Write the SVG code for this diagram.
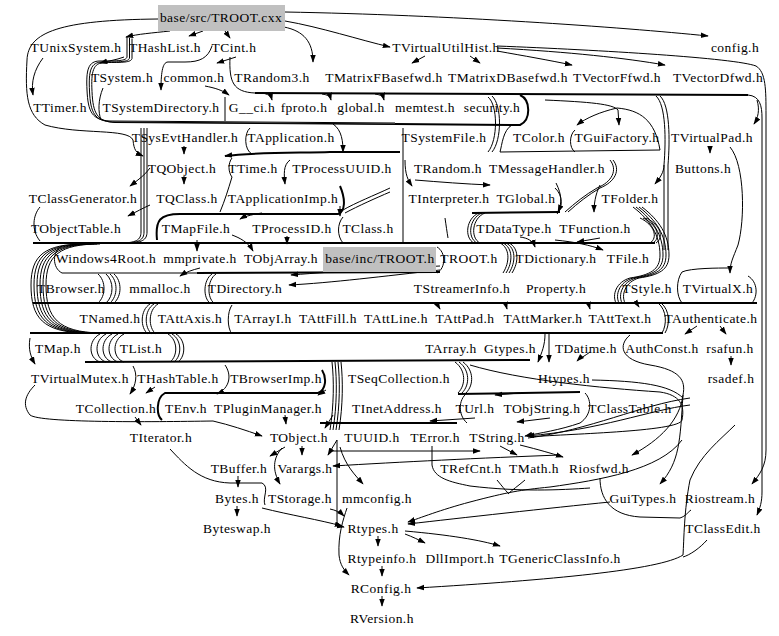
<svg xmlns="http://www.w3.org/2000/svg" width="779" height="636" viewBox="0 0 779 636">
<style>
.l{font-family:"Liberation Serif","Times New Roman",serif;font-size:13.5px;letter-spacing:0.45px;text-anchor:middle;fill:#000}
.e{fill:none;stroke:#000;stroke-width:1}
.t{fill:none;stroke:#000;stroke-width:2}
.a{marker-end:url(#ah)}
.box{fill:#c0c0c0}
</style>
<defs>
<marker id="ah" viewBox="0 0 10 10" refX="9" refY="5" markerWidth="8" markerHeight="8" markerUnits="userSpaceOnUse" orient="auto"><path d="M0,1.5 L10,5 L0,8.5 z" fill="#000"/></marker>
<path id="b1" class="e" d="M127,37 L127,57 C126,61 118,61 100,61 C88,61 86,70 87,90 C88,112 92,120 110,121 L395,123"/>
<path id="b2" class="e" d="M141,128 L141,232 C141,240 136,243 120,243"/>
<path id="b3" class="e" d="M85,244 C45,244 31,255 31,285 C31,318 43,332 85,333"/>
<path id="b5" class="e" d="M98,274 C106,281 106,296 98,303"/>
<path id="b6" class="e" d="M158,304 C148,310 148,328 156,334"/>
<path id="b7" class="e" d="M100,334 C88,340 88,358 100,362"/>
<path id="b8" class="e" d="M168,334 C178,340 178,356 170,362"/>
<path id="b9" class="e" d="M332,362 C334,380 334,405 330,430"/>
<path id="b10" class="e" d="M455,362 C466,370 466,385 458,393"/>
<path id="b11" class="e" d="M500,243 C510,248 510,262 503,273"/>
<path id="b12" class="e" d="M485,213 C472,218 470,238 480,243"/>
<path id="b13" class="e" d="M633,207 C650,220 660,235 660,255 C660,270 650,275 630,278 C616,282 612,295 616,303"/>
<path id="b14" class="e" d="M640,218 C655,225 658,238 650,243"/>
</defs>
<g id="edges">
<path class="e a" d="M170,31 C152,33 138,34 126,37"/>
<path class="e a" d="M203,31 L189,36"/>
<path class="e a" d="M225,31 L230,38"/>
<path class="e a" d="M284,27 C304,31 313,42 313,62"/>
<path class="e a" d="M285,21 C320,27 360,40 390,47"/>
<path class="e a" d="M285,12 C450,15 620,27 708,36"/>
<path class="e a" d="M497,46 C600,50 735,58 756,66 C766,72 766,90 766,115 L766,450 C766,466 760,474 752,484"/>
<path class="e" d="M230,57 C229,82 233,92 255,93"/>
<path class="t" d="M255,93 L748,95"/>
<path class="e a" d="M748,95 C760,96 762,106 762,118 L762,492 C762,502 760,508 757,515"/>
<path class="e a" d="M425,56 L412,63"/>
<path class="e a" d="M470,56 L480,63"/>
<path class="e a" d="M497,51 C525,56 548,60 572,65"/>
<path class="e a" d="M497,48 C570,52 625,58 665,65"/>
<path class="e a" d="M757,100 C760,110 758,118 754,124"/>
<path class="e a" d="M43,58 C34,70 31,82 33,95"/>
<path class="e a" d="M124,57 C116,60 108,61 100,63"/>
<use href="#b1"/><use href="#b1" transform="translate(2.5,1)"/><use href="#b1" transform="translate(5,1.5)"/>
<path class="e" d="M103,88 C98,100 98,112 101,120"/>
<path class="e a" d="M212,46 C208,58 200,62 185,62 L168,62 C162,62 161,75 161,90"/>
<path class="e a" d="M236,57 L217,63"/>
<path class="e a" d="M205,86 C215,88 222,90 229,95"/>
<path class="e a" d="M262,93 C268,94 271,96 272,100"/>
<path class="e a" d="M322,94 C328,95 330,96 331,100"/>
<path class="e a" d="M375,94 C381,95 383,96 384,100"/>
<path class="t" d="M520,95 C531,100 531,120 520,125 L395,124"/>
<path class="e" d="M225,97 L225,121"/>
<path class="e a" d="M158,19 C60,20 28,32 27,60 C25,95 27,115 45,125 C80,135 128,128 133,140 C134,150 136,153 143,156"/>
<path class="e a" d="M184,146 L184,154"/>
<path class="e" d="M250,128 C244,133 244,150 252,154"/>
<path class="e a" d="M333,124 C342,130 343,142 343,152"/>
<path class="t a" d="M400,152 L330,152 C300,153 255,152 225,156"/>
<path class="e" d="M488,97 C498,105 498,140 488,152"/>
<path class="e" d="M492,96 C502,105 502,140 492,152"/>
<path class="e" d="M512,125 C503,130 502,145 500,152"/>
<path class="e" d="M500,152 L660,150"/>
<path class="e a" d="M545,100 C590,102 613,104 618,110 L619,125"/>
<path class="e a" d="M617,108 C600,112 586,118 577,125"/>
<path class="e" d="M617,108 C640,110 655,120 660,150"/>
<path class="e" d="M575,130 C569,135 569,148 575,152"/>
<path class="e" d="M656,96 C666,105 666,140 664,165 L664,250"/>
<path class="e" d="M660,96 C670,105 670,140 668,165 L668,250"/>
<path class="e a" d="M710,146 L710,153"/>
<path class="e a" d="M730,147 C745,165 745,220 738,245 C733,258 730,263 730,273"/>
<path class="e a" d="M664,165 C664,172 660,178 655,184"/>
<path class="e a" d="M184,176 L184,184"/>
<path class="e a" d="M290,160 C283,165 284,175 285,184"/>
<path class="e" d="M232,158 C228,163 228,172 232,177 C228,190 225,200 220,212"/>
<path class="t" d="M157,240 C155,220 160,214 180,214 L338,214 C345,212 346,200 340,186"/>
<path class="e a" d="M340,206 L340,216"/>
<path class="e a" d="M262,213 C255,214 245,216 240,219"/>
<path class="e" d="M390,188 C375,195 355,203 343,210"/>
<path class="e" d="M390,192 C376,198 358,206 345,213"/>
<path class="e a" d="M150,168 C145,175 138,180 130,186"/>
<path class="e a" d="M150,205 C143,208 136,212 128,216"/>
<use href="#b2"/><use href="#b2" transform="translate(3,0)"/><use href="#b2" transform="translate(6,0)"/>
<path class="e" d="M40,207 C33,215 31,230 40,241"/>
<path class="t" d="M33,243 L655,243"/>
<use href="#b14"/><use href="#b14" transform="translate(3,0)"/><use href="#b14" transform="translate(6,0)"/>
<use href="#b3"/><use href="#b3" transform="translate(3,0)"/><use href="#b3" transform="translate(6,0)"/><use href="#b3" transform="translate(9,0)"/><use href="#b3" transform="translate(12,0)"/><use href="#b3" transform="translate(15,0)"/>
<path class="e a" d="M197,240 L197,251"/>
<path class="e a" d="M232,235 C240,238 248,242 253,251"/>
<path class="e a" d="M287,236 L287,244"/>
<path class="e" d="M343,217 C337,224 337,236 343,243"/>
<path class="e" d="M62,246 C52,251 52,268 62,273"/>
<path class="e" d="M62,273 L197,273"/>
<path class="t" d="M197,273 L440,272"/>
<path class="e a" d="M200,268 C192,270 186,272 180,276"/>
<path class="e" d="M212,274 C203,280 203,298 210,303"/>
<path class="e" d="M216,274 C207,280 207,298 214,303"/>
<use href="#b5"/><use href="#b5" transform="translate(8,0)"/><use href="#b5" transform="translate(12,0)"/><use href="#b5" transform="translate(16,0)"/>
<path class="e a" d="M440,266 C400,268 340,271 291,275"/>
<path class="e a" d="M440,270 C385,276 330,283 289,285"/>
<path class="e" d="M437,247 C446,252 446,268 437,273"/>
<use href="#b11"/><use href="#b11" transform="translate(3,0)"/><use href="#b11" transform="translate(6,0)"/><use href="#b11" transform="translate(9,0)"/>
<path class="e a" d="M555,240 C575,242 590,245 603,250"/>
<path class="e a" d="M520,237 C528,238 533,241 535,247"/>
<path class="e a" d="M600,238 L577,242"/>
<use href="#b12"/><use href="#b12" transform="translate(-3,0)"/><use href="#b12" transform="translate(-6,0)"/>
<path class="t" d="M472,213 L560,212"/>
<path class="e a" d="M556,183 C562,195 562,203 558,212"/>
<path class="e" d="M610,160 C618,170 612,182 597,188 C585,195 575,203 565,212"/>
<path class="e" d="M613,160 C621,170 615,182 600,188 C588,195 578,203 568,212"/>
<path class="e a" d="M405,160 C405,175 408,180 412,186"/>
<path class="e a" d="M415,180 C440,182 465,184 490,185"/>
<path class="e" d="M403,128 L403,242"/>
<path class="e" d="M445,218 C446,225 447,232 448,238"/>
<path class="e" d="M555,188 C563,195 563,208 557,214"/>
<path class="e a" d="M600,185 C595,195 594,205 594,212"/>
<use href="#b13"/><use href="#b13" transform="translate(3,0)"/><use href="#b13" transform="translate(6,0)"/><use href="#b13" transform="translate(9,0)"/>
<path class="t" d="M33,303 L757,303"/>
<path class="e" d="M682,303 C676,296 676,280 682,272 C690,268 720,268 728,268"/>
<path class="e" d="M748,276 C758,282 758,296 752,303"/>
<path class="e a" d="M436,302 L440,309"/>
<path class="e a" d="M505,302 L507,309"/>
<path class="e a" d="M588,302 L590,309"/>
<path class="e a" d="M635,301 L639,307"/>
<path class="t" d="M30,333 L663,333"/>
<path class="e" d="M658,303 C667,310 667,325 662,333"/>
<path class="e" d="M661,303 C670,310 670,325 665,333"/>
<path class="e a" d="M697,326 L685,334"/>
<path class="e a" d="M720,326 L726,334"/>
<path class="e a" d="M731,356 L731,365"/>
<path class="e a" d="M545,334 C545,345 542,352 538,362"/>
<path class="e a" d="M549,334 L549,362"/>
<path class="e a" d="M590,352 C585,356 580,358 577,361"/>
<path class="e a" d="M630,335 C618,345 620,360 650,365 C680,370 686,380 683,395 C680,420 660,440 632,455"/>
<path class="e a" d="M683,395 C680,440 680,462 660,484"/>
<use href="#b6"/><use href="#b6" transform="translate(-4,0)"/><use href="#b6" transform="translate(-8,0)"/>
<path class="e" d="M232,305 C227,312 227,328 232,334"/>
<path class="t" d="M85,362 L530,360"/>
<use href="#b7"/><use href="#b7" transform="translate(6,0)"/><use href="#b7" transform="translate(12,0)"/><use href="#b7" transform="translate(18,0)"/><use href="#b7" transform="translate(24,0)"/>
<use href="#b8"/><use href="#b8" transform="translate(4,0)"/><use href="#b8" transform="translate(8,0)"/>
<path class="e a" d="M30,338 C28,350 31,357 35,364"/>
<path class="e a" d="M35,385 C25,395 22,405 30,415 C40,423 150,422 213,421 C230,425 245,430 262,436"/>
<path class="e a" d="M133,366 C138,375 136,385 130,394"/>
<path class="e a" d="M155,387 L146,393"/>
<path class="e a" d="M225,365 C232,375 230,388 217,394"/>
<path class="e a" d="M135,417 L141,425"/>
<path class="t" d="M162,420 C156,415 156,398 165,393 L318,393 C326,390 327,378 322,370"/>
<path class="e a" d="M326,390 L318,395"/>
<path class="e a" d="M285,415 L286,424"/>
<use href="#b9"/><use href="#b9" transform="translate(3,0)"/><use href="#b9" transform="translate(6,0)"/><use href="#b9" transform="translate(9,0)"/>
<path class="e a" d="M333,415 L325,428"/>
<path class="t" d="M320,423 L457,423"/>
<use href="#b10"/><use href="#b10" transform="translate(4,0)"/><use href="#b10" transform="translate(8,0)"/>
<path class="t" d="M458,394 L580,392"/>
<path class="e a" d="M520,393 L495,395"/>
<path class="e a" d="M585,393 C592,400 592,415 580,423 C560,430 540,433 525,436"/>
<path class="e" d="M467,393 C458,400 458,415 467,423"/>
<path class="e a" d="M690,405 C650,410 600,430 527,436"/>
<path class="e" d="M690,398 C640,405 590,430 528,438"/>
<path class="e" d="M470,365 C520,380 600,388 660,392 C680,395 685,405 682,420 C680,432 560,434 530,437"/>
<path class="e" d="M592,380 C640,381 670,385 683,398"/>
<path class="e a" d="M475,418 L430,421"/>
<path class="e a" d="M550,418 L517,422"/>
<path class="e a" d="M285,447 L270,456"/>
<path class="e a" d="M302,446 L302,455"/>
<path class="e a" d="M337,440 L328,455"/>
<path class="e a" d="M282,448 C273,458 272,470 280,484"/>
<path class="e a" d="M340,447 C345,465 355,475 363,484"/>
<path class="e a" d="M337,440 L337,520 C337,524 339,526 344,527"/>
<path class="e a" d="M347,508 C343,520 338,535 339,555 C340,565 344,570 349,575"/>
<path class="e a" d="M330,451 L480,451"/>
<path class="e a" d="M500,446 L517,455"/>
<path class="e a" d="M520,445 C540,450 550,453 563,457"/>
<path class="e" d="M432,446 L432,465 C434,478 450,482 470,486 C520,492 560,490 590,488"/>
<path class="e" d="M600,478 C600,498 610,515 640,517 L680,518 C686,516 688,512 691,510"/>
<path class="e" d="M707,540 C700,548 690,555 683,557"/>
<path class="e" d="M497,480 C502,486 505,490 508,493"/>
<path class="e" d="M525,480 C518,486 512,490 508,494"/>
<path class="e a" d="M682,440 C660,470 600,480 550,487 C520,490 508,492 470,502 C440,510 420,518 408,522"/>
<path class="e a" d="M610,502 C550,508 460,518 408,524"/>
<path class="e a" d="M560,455 C480,458 400,462 333,466"/>
<path class="e a" d="M378,536 L378,546"/>
<path class="e a" d="M405,534 C413,537 419,540 425,543"/>
<path class="e a" d="M405,531 C450,535 480,540 500,546"/>
<path class="e a" d="M382,566 L382,576"/>
<path class="e a" d="M382,596 L382,606"/>
<path class="e a" d="M735,425 C720,440 700,455 690,480 C684,510 684,540 683,555 C660,570 550,580 417,588"/>
<path class="e" d="M170,449 C185,465 200,482 230,483 L262,483 C270,487 262,498 265,505"/>
<path class="e a" d="M262,508 C290,515 320,520 342,526"/>
<path class="e a" d="M238,476 L238,487"/>
<path class="e a" d="M237,506 L237,516"/>
<path class="e a" d="M330,509 C335,510 340,512 344,516"/>
</g>
<g id="node-cxx"><rect class="box" x="158" y="5" width="127" height="26"/><text class="l" x="221" y="22">base/src/TROOT.cxx</text></g>
<g id="node-TUnixSystem"><text class="l" x="76" y="52">TUnixSystem.h</text></g>
<g id="node-THashList"><text class="l" x="165" y="52">THashList.h</text></g>
<g id="node-TCint"><text class="l" x="234" y="52">TCint.h</text></g>
<g id="node-TVirtualUtilHist"><text class="l" x="446" y="52">TVirtualUtilHist.h</text></g>
<g id="node-config"><text class="l" x="735" y="52">config.h</text></g>
<g id="node-TSystem"><text class="l" x="122" y="82">TSystem.h</text></g>
<g id="node-common"><text class="l" x="194" y="82">common.h</text></g>
<g id="node-TRandom3"><text class="l" x="272" y="82">TRandom3.h</text></g>
<g id="node-TMatrixFBasefwd"><text class="l" x="384" y="82">TMatrixFBasefwd.h</text></g>
<g id="node-TMatrixDBasefwd"><text class="l" x="508" y="82">TMatrixDBasefwd.h</text></g>
<g id="node-TVectorFfwd"><text class="l" x="617" y="82">TVectorFfwd.h</text></g>
<g id="node-TVectorDfwd"><text class="l" x="718" y="82">TVectorDfwd.h</text></g>
<g id="node-TTimer"><text class="l" x="60" y="112">TTimer.h</text></g>
<g id="node-TSystemDirectory"><text class="l" x="161" y="112">TSystemDirectory.h</text></g>
<g id="node-G__ci"><text class="l" x="252" y="112">G__ci.h</text></g>
<g id="node-fproto"><text class="l" x="304" y="112">fproto.h</text></g>
<g id="node-global"><text class="l" x="361" y="112">global.h</text></g>
<g id="node-memtest"><text class="l" x="425" y="112">memtest.h</text></g>
<g id="node-security"><text class="l" x="492" y="112">security.h</text></g>
<g id="node-TSysEvtHandler"><text class="l" x="185" y="142">TSysEvtHandler.h</text></g>
<g id="node-TApplication"><text class="l" x="291" y="142">TApplication.h</text></g>
<g id="node-TSystemFile"><text class="l" x="444" y="142">TSystemFile.h</text></g>
<g id="node-TColor"><text class="l" x="539" y="142">TColor.h</text></g>
<g id="node-TGuiFactory"><text class="l" x="617" y="142">TGuiFactory.h</text></g>
<g id="node-TVirtualPad"><text class="l" x="712" y="142">TVirtualPad.h</text></g>
<g id="node-TQObject"><text class="l" x="182" y="173">TQObject.h</text></g>
<g id="node-TTime"><text class="l" x="253" y="173">TTime.h</text></g>
<g id="node-TProcessUUID"><text class="l" x="342" y="173">TProcessUUID.h</text></g>
<g id="node-TRandom"><text class="l" x="448" y="173">TRandom.h</text></g>
<g id="node-TMessageHandler"><text class="l" x="547" y="173">TMessageHandler.h</text></g>
<g id="node-Buttons"><text class="l" x="703" y="173">Buttons.h</text></g>
<g id="node-TClassGenerator"><text class="l" x="83" y="203">TClassGenerator.h</text></g>
<g id="node-TQClass"><text class="l" x="187" y="203">TQClass.h</text></g>
<g id="node-TApplicationImp"><text class="l" x="283" y="203">TApplicationImp.h</text></g>
<g id="node-TInterpreter"><text class="l" x="449" y="203">TInterpreter.h</text></g>
<g id="node-TGlobal"><text class="l" x="526" y="203">TGlobal.h</text></g>
<g id="node-TFolder"><text class="l" x="630" y="203">TFolder.h</text></g>
<g id="node-TObjectTable"><text class="l" x="76" y="233">TObjectTable.h</text></g>
<g id="node-TMapFile"><text class="l" x="196" y="233">TMapFile.h</text></g>
<g id="node-TProcessID"><text class="l" x="292" y="233">TProcessID.h</text></g>
<g id="node-TClass"><text class="l" x="368" y="233">TClass.h</text></g>
<g id="node-TDataType"><text class="l" x="514" y="233">TDataType.h</text></g>
<g id="node-TFunction"><text class="l" x="595" y="233">TFunction.h</text></g>
<g id="node-Windows4Root"><text class="l" x="106" y="263">Windows4Root.h</text></g>
<g id="node-mmprivate"><text class="l" x="200" y="263">mmprivate.h</text></g>
<g id="node-TObjArray"><text class="l" x="281" y="263">TObjArray.h</text></g>
<g id="node-TROOT_h_inc"><rect class="box" x="323" y="247" width="113" height="25"/><text class="l" x="380" y="263">base/inc/TROOT.h</text></g>
<g id="node-TROOT"><text class="l" x="469" y="263">TROOT.h</text></g>
<g id="node-TDictionary"><text class="l" x="556" y="263">TDictionary.h</text></g>
<g id="node-TFile"><text class="l" x="628" y="263">TFile.h</text></g>
<g id="node-TBrowser"><text class="l" x="71" y="293">TBrowser.h</text></g>
<g id="node-mmalloc"><text class="l" x="160" y="293">mmalloc.h</text></g>
<g id="node-TDirectory"><text class="l" x="245" y="293">TDirectory.h</text></g>
<g id="node-TStreamerInfo"><text class="l" x="462" y="293">TStreamerInfo.h</text></g>
<g id="node-Property"><text class="l" x="556" y="293">Property.h</text></g>
<g id="node-TStyle"><text class="l" x="647" y="293">TStyle.h</text></g>
<g id="node-TVirtualX"><text class="l" x="718" y="293">TVirtualX.h</text></g>
<g id="node-TNamed"><text class="l" x="110" y="323">TNamed.h</text></g>
<g id="node-TAttAxis"><text class="l" x="190" y="323">TAttAxis.h</text></g>
<g id="node-TArrayI"><text class="l" x="263" y="323">TArrayI.h</text></g>
<g id="node-TAttFill"><text class="l" x="328" y="323">TAttFill.h</text></g>
<g id="node-TAttLine"><text class="l" x="396" y="323">TAttLine.h</text></g>
<g id="node-TAttPad"><text class="l" x="465" y="323">TAttPad.h</text></g>
<g id="node-TAttMarker"><text class="l" x="543" y="323">TAttMarker.h</text></g>
<g id="node-TAttText"><text class="l" x="620" y="323">TAttText.h</text></g>
<g id="node-TAuthenticate"><text class="l" x="711" y="323">TAuthenticate.h</text></g>
<g id="node-TMap"><text class="l" x="58" y="353">TMap.h</text></g>
<g id="node-TList"><text class="l" x="141" y="353">TList.h</text></g>
<g id="node-TArray"><text class="l" x="451" y="353">TArray.h</text></g>
<g id="node-Gtypes"><text class="l" x="510" y="353">Gtypes.h</text></g>
<g id="node-TDatime"><text class="l" x="586" y="353">TDatime.h</text></g>
<g id="node-AuthConst"><text class="l" x="662" y="353">AuthConst.h</text></g>
<g id="node-rsafun"><text class="l" x="730" y="353">rsafun.h</text></g>
<g id="node-TVirtualMutex"><text class="l" x="80" y="383">TVirtualMutex.h</text></g>
<g id="node-THashTable"><text class="l" x="178" y="383">THashTable.h</text></g>
<g id="node-TBrowserImp"><text class="l" x="276" y="383">TBrowserImp.h</text></g>
<g id="node-TSeqCollection"><text class="l" x="399" y="383">TSeqCollection.h</text></g>
<g id="node-Htypes"><text class="l" x="564" y="383">Htypes.h</text></g>
<g id="node-rsadef"><text class="l" x="731" y="383">rsadef.h</text></g>
<g id="node-TCollection"><text class="l" x="116" y="413">TCollection.h</text></g>
<g id="node-TEnv"><text class="l" x="186" y="413">TEnv.h</text></g>
<g id="node-TPluginManager"><text class="l" x="268" y="413">TPluginManager.h</text></g>
<g id="node-TInetAddress"><text class="l" x="397" y="413">TInetAddress.h</text></g>
<g id="node-TUrl"><text class="l" x="475" y="413">TUrl.h</text></g>
<g id="node-TObjString"><text class="l" x="542" y="413">TObjString.h</text></g>
<g id="node-TClassTable"><text class="l" x="630" y="413">TClassTable.h</text></g>
<g id="node-TIterator"><text class="l" x="161" y="442">TIterator.h</text></g>
<g id="node-TObject"><text class="l" x="299" y="442">TObject.h</text></g>
<g id="node-TUUID"><text class="l" x="372" y="442">TUUID.h</text></g>
<g id="node-TError"><text class="l" x="435" y="442">TError.h</text></g>
<g id="node-TString"><text class="l" x="497" y="442">TString.h</text></g>
<g id="node-TBuffer"><text class="l" x="239" y="473">TBuffer.h</text></g>
<g id="node-Varargs"><text class="l" x="305" y="473">Varargs.h</text></g>
<g id="node-TRefCnt"><text class="l" x="471" y="473">TRefCnt.h</text></g>
<g id="node-TMath"><text class="l" x="534" y="473">TMath.h</text></g>
<g id="node-Riosfwd"><text class="l" x="599" y="473">Riosfwd.h</text></g>
<g id="node-Bytes"><text class="l" x="237" y="503">Bytes.h</text></g>
<g id="node-TStorage"><text class="l" x="300" y="503">TStorage.h</text></g>
<g id="node-mmconfig"><text class="l" x="377" y="503">mmconfig.h</text></g>
<g id="node-GuiTypes"><text class="l" x="643" y="503">GuiTypes.h</text></g>
<g id="node-Riostream"><text class="l" x="720" y="503">Riostream.h</text></g>
<g id="node-Byteswap"><text class="l" x="237" y="533">Byteswap.h</text></g>
<g id="node-Rtypes"><text class="l" x="373" y="533">Rtypes.h</text></g>
<g id="node-TClassEdit"><text class="l" x="723" y="533">TClassEdit.h</text></g>
<g id="node-Rtypeinfo"><text class="l" x="382" y="563">Rtypeinfo.h</text></g>
<g id="node-DllImport"><text class="l" x="460" y="563">DllImport.h</text></g>
<g id="node-TGenericClassInfo"><text class="l" x="560" y="563">TGenericClassInfo.h</text></g>
<g id="node-RConfig"><text class="l" x="381" y="593">RConfig.h</text></g>
<g id="node-RVersion"><text class="l" x="382" y="623">RVersion.h</text></g>
</svg>
